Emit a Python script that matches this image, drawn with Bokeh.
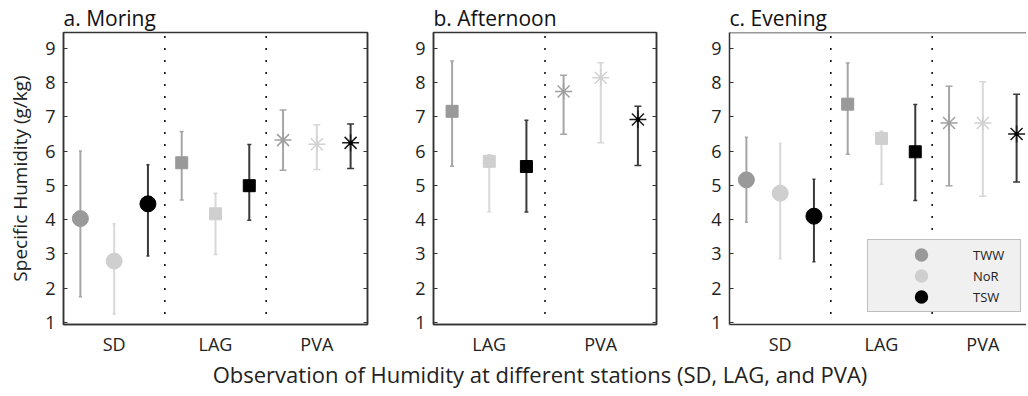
from bokeh.plotting import figure
from bokeh.layouts import row, column
from bokeh.models import FixedTicker, LinearAxis, Legend, LegendItem, Range1d, Span
from bokeh.embed import file_html
from bokeh.resources import INLINE
from bokeh.core.properties import value

FONT = "Open Sans"

# ---------------- data ----------------
series = ["TWW", "NoR", "TSW"]
y_ticks = [1, 2, 3, 4, 5, 6, 7, 8, 9]
x_title = "Observation of Humidity at different stations (SD, LAG, and PVA)"

# a. Morning
a_stations = ["SD", "LAG", "PVA"]
a_tww = [4.03, 5.66, 6.32]
a_tww_lo = [1.75, 4.57, 5.44]
a_tww_hi = [6.00, 6.57, 7.20]
a_nor = [2.79, 4.17, 6.20]
a_nor_lo = [1.24, 2.98, 5.46]
a_nor_hi = [3.88, 4.77, 6.77]
a_tsw = [4.46, 4.99, 6.24]
a_tsw_lo = [2.94, 3.98, 5.49]
a_tsw_hi = [5.60, 6.19, 6.79]

# b. Afternoon
b_stations = ["LAG", "PVA"]
b_tww = [7.16, 7.74]
b_tww_lo = [5.56, 6.49]
b_tww_hi = [8.63, 8.21]
b_nor = [5.70, 8.14]
b_nor_lo = [4.23, 6.24]
b_nor_hi = [5.89, 8.58]
b_tsw = [5.55, 6.92]
b_tsw_lo = [4.22, 5.58]
b_tsw_hi = [6.90, 7.31]

# c. Evening
c_stations = ["SD", "LAG", "PVA"]
c_tww = [5.16, 7.37, 6.82]
c_tww_lo = [3.92, 5.91, 4.99]
c_tww_hi = [6.40, 8.57, 7.89]
c_nor = [4.77, 6.37, 6.82]
c_nor_lo = [2.86, 5.03, 4.68]
c_nor_hi = [6.22, 6.58, 8.02]
c_tsw = [4.10, 5.98, 6.50]
c_tsw_lo = [2.77, 4.56, 5.10]
c_tsw_hi = [5.18, 7.36, 7.66]

# ---------------- styles ----------------
marker_for = {"SD": "circle", "LAG": "square", "PVA": "asterisk"}
size_for = {"SD": 16, "LAG": 12, "PVA": 17}
cap_for = {"SD": 3, "LAG": 4, "PVA": 7}
mcol = {"TWW": "#999999", "NoR": "#cfcfcf", "TSW": "#000000"}
acol = {"TWW": "#a0a0a0", "NoR": "#d2d2d2", "TSW": "#1a1a1a"}
bcol = {"TWW": "#a6a6a6", "NoR": "#d8d8d8", "TSW": "#3a3a3a"}
offset = {"TWW": -1 / 3, "NoR": 0.0, "TSW": 1 / 3}
Y0, Y1 = 0.94, 9.46
AX = "#333333"
TXT = "#222222"
PANEL_H = 358


def make_panel(title, stations, data, width, left, right, xend, ylabel=None,
               right_ticks=True, outline=True):
    p = figure(width=width, height=PANEL_H, x_range=Range1d(0.5, xend),
               y_range=Range1d(Y0, Y1), output_backend="svg",
               toolbar_location=None, min_border_left=left,
               min_border_right=right, min_border_top=32,
               min_border_bottom=PANEL_H - 32 - 293)
    p.title.text = title
    p.title.text_font = FONT
    p.title.text_font_size = "21px"
    p.title.text_font_style = "normal"
    p.title.text_color = "#111111"
    p.title.standoff = 1
    p.grid.visible = False
    p.background_fill_color = "white"
    p.border_fill_color = "white"
    if outline:
        p.outline_line_color = AX
        p.outline_line_width = 1.5
    else:
        p.outline_line_color = None
        p.outline_line_alpha = 0
        p.outline_line_width = 0
        p.add_layout(Span(location=Y1, dimension="width", line_color=AX,
                          line_width=1.5))

    # y axis
    p.yaxis.ticker = FixedTicker(ticks=y_ticks)
    p.yaxis.major_tick_in = 4
    p.yaxis.major_tick_out = 0
    p.yaxis.minor_tick_line_color = None
    p.yaxis.major_tick_line_color = AX
    p.yaxis.axis_line_color = AX
    p.yaxis.axis_line_width = 1.5
    p.yaxis.major_label_text_font = FONT
    p.yaxis.major_label_text_font_size = "18px"
    p.yaxis.major_label_text_color = TXT
    p.yaxis.major_label_standoff = 8
    if ylabel:
        p.yaxis.axis_label = ylabel
        p.yaxis.axis_label_text_font = FONT
        p.yaxis.axis_label_text_font_size = "19px"
        p.yaxis.axis_label_text_font_style = "normal"
        p.yaxis.axis_label_text_color = TXT
        p.yaxis.axis_label_standoff = 9

    # x axis
    n = len(stations)
    p.xaxis.ticker = FixedTicker(ticks=list(range(1, n + 1)))
    p.xaxis.major_label_overrides = {i + 1: s for i, s in enumerate(stations)}
    p.xaxis.major_tick_line_color = None
    p.xaxis.minor_tick_line_color = None
    p.xaxis.axis_line_color = AX
    p.xaxis.axis_line_width = 1.5
    p.xaxis.major_label_text_font = FONT
    p.xaxis.major_label_text_font_size = "18px"
    p.xaxis.major_label_text_color = TXT
    p.xaxis.major_label_standoff = 1

    if right_ticks:
        ra = LinearAxis(ticker=FixedTicker(ticks=y_ticks),
                        major_label_text_font_size="1px",
                        major_label_text_color=None, major_tick_in=4,
                        major_tick_out=0, major_label_standoff=0,
                        axis_line_color=AX, axis_line_width=1.5,
                        major_tick_line_color=AX, minor_tick_line_color=None)
        p.add_layout(ra, "right")

    # dotted station separators
    seps = [i + 1.5 for i in range(n - 1)]
    p.segment(x0=seps, y0=[1.25] * len(seps), x1=seps, y1=[Y1] * len(seps),
              line_color="#000000", line_width=1.5, line_dash="2 10")

    # error bars
    for s in series:
        vals, lo, hi = data[s]
        xs = [i + 1 + offset[s] for i in range(n)]
        p.segment(x0=xs, y0=lo, x1=xs, y1=hi, line_color=bcol[s], line_width=2)
        caps = [cap_for[st] for st in stations]
        p.scatter(x=xs + xs, y=list(hi) + list(lo), marker="dash", size=caps + caps,
                  line_color=bcol[s], line_width=1.5)

    # markers
    for s in series:
        vals, lo, hi = data[s]
        for i, st in enumerate(stations):
            x = i + 1 + offset[s]
            if marker_for[st] == "asterisk":
                p.scatter(x=[x], y=[vals[i]], marker="asterisk", size=size_for[st],
                          line_color=acol[s], line_width=1.5)
                if s == "TSW":
                    p.scatter(x=[x], y=[vals[i]], marker="square", size=3,
                              fill_color="#000000", line_color="#000000")
            else:
                p.scatter(x=[x], y=[vals[i]], marker=marker_for[st], size=size_for[st],
                          fill_color=mcol[s], line_color=mcol[s], line_width=1)
    return p


data_a = {"TWW": (a_tww, a_tww_lo, a_tww_hi), "NoR": (a_nor, a_nor_lo, a_nor_hi),
          "TSW": (a_tsw, a_tsw_lo, a_tsw_hi)}
data_b = {"TWW": (b_tww, b_tww_lo, b_tww_hi), "NoR": (b_nor, b_nor_lo, b_nor_hi),
          "TSW": (b_tsw, b_tsw_lo, b_tsw_hi)}
data_c = {"TWW": (c_tww, c_tww_lo, c_tww_hi), "NoR": (c_nor, c_nor_lo, c_nor_hi),
          "TSW": (c_tsw, c_tsw_lo, c_tsw_hi)}

p1 = make_panel("a. Moring", a_stations, data_a, 377, 63, 10, 3.5,
                ylabel="Specific Humidity (g/kg)")
p2 = make_panel("b. Afternoon", b_stations, data_b, 289, 56, 10, 2.5)
p3 = make_panel("c. Evening", c_stations, data_c, 360, 63, 0, 0.5 + 297 / 101.33,
                right_ticks=False, outline=False)

# legend swatches (hidden renderers; the thick outline enlarges the legend dot)
leg_vals = {"TWW": c_tww, "NoR": c_nor, "TSW": c_tsw}
items = []
for s in series:
    r = p3.scatter(x=[1 + offset[s]], y=[leg_vals[s][0]], marker="circle", size=16,
                   fill_color=mcol[s], line_color=mcol[s], line_width=5,
                   visible=False)
    items.append(LegendItem(label=s, renderers=[r]))

legend = Legend(items=items, location=(138, 12), orientation="vertical",
                glyph_width=98, glyph_height=21, spacing=0, padding=4,
                label_width=43, label_height=21, label_standoff=3,
                background_fill_color="#f0f0f0", background_fill_alpha=1.0,
                border_line_color="#8a8a8a", border_line_width=1.5,
                label_text_font=FONT, label_text_font_size="13px",
                label_text_color=TXT)
p3.add_layout(legend)

# shared x-axis title, centred under the middle panel (like MATLAB's xlabel)
pl = figure(width=1026, height=34, x_range=Range1d(0, 1), y_range=Range1d(0, 1),
            output_backend="svg", toolbar_location=None,
            min_border_left=53, min_border_right=0, min_border_top=0,
            min_border_bottom=0)
pl.axis.visible = False
pl.grid.visible = False
pl.outline_line_color = None
pl.text(x=[0.5], y=[1], text=[x_title], text_align="center",
        text_baseline="top", text_font=value(FONT), text_font_size="22px",
        text_color=TXT)

layout = column(row(p1, p2, p3, spacing=0), pl, spacing=0)
open("out.html", "w").write(file_html(layout, INLINE))
